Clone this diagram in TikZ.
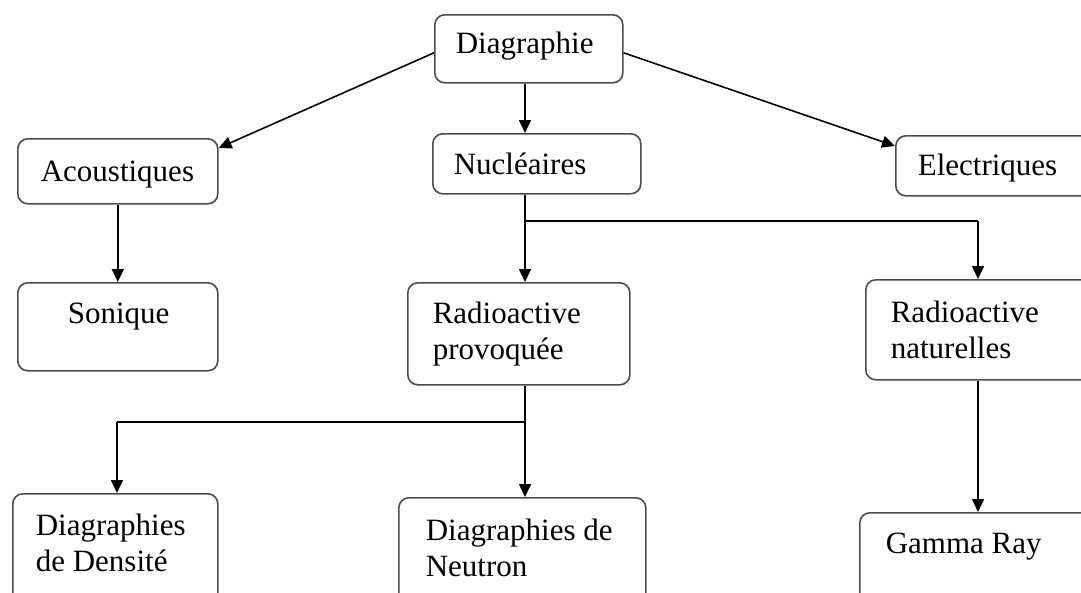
\documentclass[tikz,border=0pt]{standalone}
\usepackage{fontspec}
\setmainfont{Liberation Serif}
\usetikzlibrary{arrows.meta,calc}
\newcommand\bxt[5]{\parbox[c][#2pt][t]{#1pt}{\fontsize{31}{36}\selectfont\leftskip=#3pt\rightskip=0pt plus 1fil\parindent=0pt\vspace*{#4pt}\strut#5\par}}
\tikzset{
  bx/.style={draw=black!70, line width=1.6pt, rounded corners=10pt, fill=white, inner sep=0pt, anchor=north west},
  arr/.style={draw=black, line width=1.6pt, -{Triangle[length=13pt,width=12pt]}},
  ln/.style={draw=black, line width=1.6pt}
}
\begin{document}
\begin{tikzpicture}[x=1pt,y=-1pt]
\useasboundingbox (0,0) rectangle (1081,592);
\clip (0,0) rectangle (1081,592);
\fill[white] (0,0) rectangle (1081,592);
% boxes
\node[bx] (diag) at (434,14) {\bxt{188}{68}{21}{13.8}{Diagraphie}};
\node[bx] (acou) at (17,138) {\bxt{200}{65}{23}{17.8}{Acoustiques}};
\node[bx] (nucl) at (432,133) {\bxt{208}{60}{21}{15.8}{Nucléaires}};
\node[bx] (elec) at (895,135) {\bxt{205}{60}{22}{14.8}{Electriques}};
\node[bx] (soni) at (17,282) {\bxt{200}{88}{50}{15.8}{Sonique}};
\node[bx] (prov) at (407,282) {\bxt{222}{102}{25}{15.8}{Radioactive\\provoquée}};
\node[bx] (natu) at (865,279) {\bxt{227}{100}{25}{17.8}{Radioactive\\naturelles}};
\node[bx] (dens) at (12,493) {\bxt{205}{127}{23}{16.8}{Diagraphies\\de Densité}};
\node[bx] (neut) at (398,497) {\bxt{247}{123}{27}{17.8}{Diagraphies de\\Neutron}};
\node[bx] (gamm) at (859,512) {\bxt{238}{108}{26}{15.8}{Gamma Ray}};
% junctions
\coordinate (j1) at (525,221);
\coordinate (j2) at (525,422);
\coordinate (jl) at (117,422);
\coordinate (jr) at (978,221);
% connectors
\draw[arr] ([yshift=-4pt]diag.west) -- ([yshift=-10pt]acou.north east);
\draw[arr] ([yshift=-4pt]diag.east) -- ([yshift=-11pt]elec.north west);
\draw[arr] (diag.south -| j1) -- (nucl.north -| j1);
\draw[arr] (acou.south) -- (soni.north);
\draw[ln] (nucl.south -| j1) -- (j1) -- (jr);
\draw[arr] (jr) -- (natu.north -| jr);
\draw[arr] (j1) -- (prov.north -| j1);
\draw[ln] (prov.south -| j2) -- (j2) -- (jl);
\draw[arr] (jl) -- (dens.north -| jl);
\draw[arr] (j2) -- (neut.north -| j2);
\draw[arr] (natu.south -| jr) -- (gamm.north -| jr);
\end{tikzpicture}
\end{document}
